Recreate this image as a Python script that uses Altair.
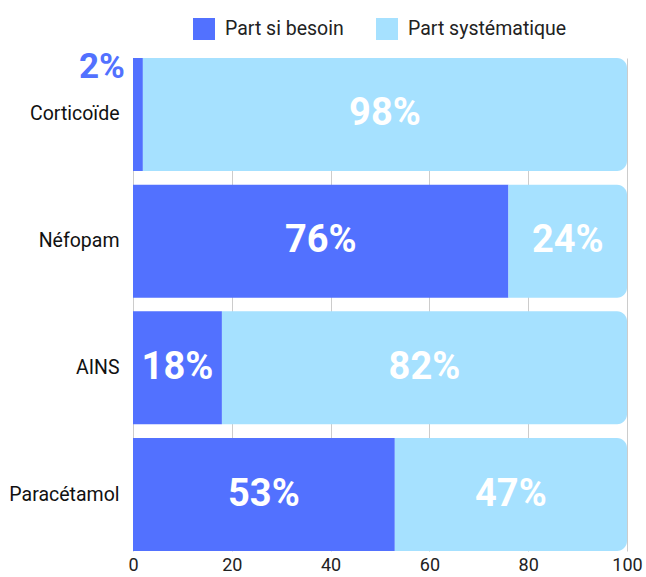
import altair as alt
import pandas as pd

categories = ["Corticoïde", "Néfopam", "AINS", "Paracétamol"]
series_names = ["Part si besoin", "Part systématique"]
si_besoin = [2, 76, 18, 53]
systematique = [98, 24, 82, 47]

rows = []
for c, a, b in zip(categories, si_besoin, systematique):
    rows.append({"cat": c, "series": series_names[0], "order": 0, "value": a})
    rows.append({"cat": c, "series": series_names[1], "order": 1, "value": b})
df = pd.DataFrame(rows)

DARK = "#5271FF"
LIGHT = "#A6E1FF"

color = alt.Color(
    "series:N",
    scale=alt.Scale(domain=series_names, range=[DARK, LIGHT]),
    legend=alt.Legend(
        title=None, orient="none", direction="horizontal",
        legendX=60, legendY=-40,
        symbolType="square", symbolSize=484, symbolStrokeWidth=0,
        labelFontSize=19.5, labelFont="Roboto", labelColor="#222",
        labelOffset=10, columnPadding=32,
    ),
)

ycat = alt.Y(
    "cat:N", sort=categories,
    scale=alt.Scale(paddingInner=0.108, paddingOuter=0),
    axis=alt.Axis(title=None, ticks=False, domain=False, labelFontSize=19.5,
                  labelFont="Roboto", labelColor="#111", labelPadding=14, grid=False),
)

base = alt.Chart(df).transform_stack(
    stack="value", groupby=["cat"], as_=["x0", "x1"],
    sort=[alt.SortField("order", order="ascending")],
).transform_calculate(
    mid="(datum.x0 + datum.x1) / 2",
    label="datum.value + '%'",
)

xenc = alt.X(
    "x0:Q", scale=alt.Scale(domain=[0, 100], nice=False),
    axis=alt.Axis(title=None, values=[0, 20, 40, 60, 80, 100], ticks=False, domain=False,
                  grid=True, gridColor="#cccccc", gridWidth=1, labelFlush=False,
                  labelFontSize=18, labelFont="Roboto", labelColor="#222", labelPadding=5),
)

dark_bars = base.transform_filter(alt.datum.order == 0).mark_bar().encode(
    x=xenc, x2="x1:Q", y=ycat, color=color
)
light_bars = base.transform_filter(alt.datum.order == 1).mark_bar(
    cornerRadiusTopRight=10, cornerRadiusBottomRight=10
).encode(x=xenc, x2="x1:Q", y=ycat, color=color)

labels = base.transform_filter(alt.datum.value >= 5).mark_text(
    font="Roboto", fontSize=38, fontWeight="bold", color="white", baseline="middle"
).encode(x="mid:Q", y=alt.Y("cat:N", sort=categories), text="label:N")

small_labels = base.transform_filter(alt.datum.value < 5).mark_text(
    font="Roboto", fontSize=35, fontWeight="bold", color=DARK, align="right",
    baseline="middle", dx=-8, dy=-47
).encode(x="x0:Q", y=alt.Y("cat:N", sort=categories), text="label:N")

chart = alt.layer(dark_bars, light_bars, labels, small_labels).properties(
    width=494, height=493,
    autosize=alt.AutoSizeParams(type="none"),
    padding={"left": 133, "top": 58, "right": 19, "bottom": 26},
).configure_view(stroke=None)

chart.save("out.html", embed_options={"renderer": "svg", "actions": False})
